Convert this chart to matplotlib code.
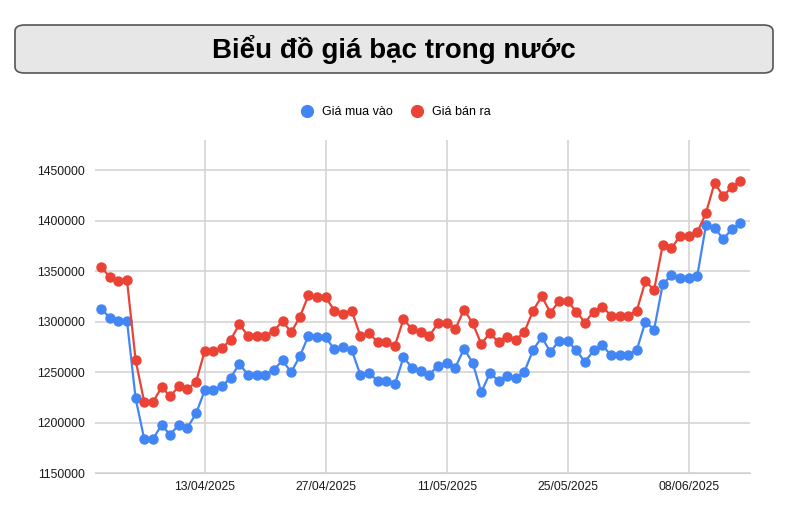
import numpy as np
import pandas as pd
import matplotlib
matplotlib.use('Agg')
import matplotlib.pyplot as plt
import matplotlib.dates as mdates
from matplotlib.patches import FancyBboxPatch
from matplotlib.lines import Line2D

plt.rcParams['font.family'] = ['Liberation Sans', 'DejaVu Sans']

# Du lieu: gia bac moi ngay tu 01/04/2025 den 14/06/2025
ngay = pd.date_range('2025-04-01', '2025-06-14', freq='D')

gia_mua = [1313000, 1304000, 1300500, 1301000, 1224000, 1183500, 1183500, 1197500, 1188000, 1198000,
           1195000, 1209000, 1232000, 1232000, 1236000, 1244500, 1258000, 1247500, 1247500, 1247500,
           1252500, 1261500, 1250000, 1265500, 1286000, 1284500, 1284500, 1272500, 1274500, 1272000,
           1247500, 1249000, 1241500, 1241500, 1238000, 1264500, 1254500, 1251500, 1247500, 1256500,
           1259500, 1254500, 1273000, 1259500, 1230000, 1249000, 1241500, 1246500, 1244000, 1250500,
           1272000, 1284500, 1270000, 1281000, 1281000, 1271500, 1260000, 1271500, 1276500, 1267000,
           1267000, 1267000, 1272000, 1300000, 1292000, 1337000, 1346000, 1343000, 1343000, 1345500,
           1395500, 1393000, 1382000, 1391500, 1397500]

gia_ban = [1354000, 1344500, 1340000, 1341000, 1262000, 1220000, 1220000, 1235000, 1226000, 1236000,
           1233000, 1240500, 1271000, 1270500, 1274000, 1282000, 1297500, 1286000, 1286000, 1286000,
           1291000, 1300500, 1289500, 1304500, 1326000, 1324000, 1324000, 1311000, 1307500, 1311000,
           1286000, 1288500, 1280000, 1280000, 1276000, 1302500, 1292500, 1290000, 1286000, 1298500,
           1298500, 1292500, 1312000, 1298500, 1278000, 1288500, 1279500, 1285000, 1282000, 1290000,
           1311000, 1325000, 1309000, 1320000, 1320000, 1310000, 1299000, 1310000, 1315000, 1306000,
           1306000, 1306000, 1311000, 1340000, 1331500, 1376000, 1372500, 1385000, 1385000, 1388500,
           1407500, 1437500, 1424500, 1433500, 1439500]

nhan_x = ['13/04/2025', '27/04/2025', '11/05/2025', '25/05/2025', '08/06/2025']
moc_y = [1150000, 1200000, 1250000, 1300000, 1350000, 1400000, 1450000]

xanh = '#4285F4'
do = '#EA4335'

fig = plt.figure(figsize=(7.93, 5.12), dpi=100)
W, H = 793, 512

# Khung tieu de
box = FancyBboxPatch((15 / W, 1 - 73 / H), 758 / W, 48 / H,
                     boxstyle='round,pad=0,rounding_size=0.012',
                     transform=fig.transFigure, facecolor='#e8e7e8',
                     edgecolor='#555555', linewidth=1.2)
fig.patches.append(box)
fig.text(394 / W, 1 - 49 / H, 'Biểu đồ giá bạc trong nước', ha='center', va='center',
         fontsize=20, fontweight='bold', color='black')

ax = fig.add_axes([95 / W, 1 - 473 / H, 655 / W, 333 / H])

ax.plot(ngay, gia_mua, '-o', color=xanh, linewidth=1.6, markersize=6.5, zorder=3)
ax.plot(ngay, gia_ban, '-o', color=do, linewidth=1.6, markersize=6.5, zorder=3)

# Truc
x0 = mdates.date2num(ngay[0]) - 0.7
x1 = mdates.date2num(ngay[-1]) + 1.1
ax.set_xlim(x0, x1)
ax.set_ylim(1150000, 1480000)

vi_tri_x = [mdates.date2num(pd.to_datetime(s, format='%d/%m/%Y')) for s in nhan_x]
ax.set_xticks(vi_tri_x)
ax.set_xticklabels(nhan_x)
ax.set_yticks(moc_y)
ax.set_yticklabels([str(v) for v in moc_y])

ax.tick_params(axis='both', length=0, labelsize=8.8, colors='#1a1a1a')
ax.tick_params(axis='x', pad=6)
ax.tick_params(axis='y', pad=7)
ax.grid(True, color='#d4d4d4', linewidth=1.2)
ax.set_axisbelow(True)
for s in ax.spines.values():
    s.set_visible(False)
ax.spines['bottom'].set_visible(True)
ax.spines['bottom'].set_color('#d0d0d0')

# Chu thich
handles = [Line2D([], [], marker='o', linestyle='', color=xanh, markersize=8.5),
           Line2D([], [], marker='o', linestyle='', color=do, markersize=8.5)]
fig.legend(handles, ['Giá mua vào', 'Giá bán ra'], loc='center',
           bbox_to_anchor=(395 / W, 1 - 112 / H), ncol=2, frameon=False,
           fontsize=9, handletextpad=0.6, columnspacing=1.4, handlelength=1.2)

fig.savefig('out.png', dpi=100, facecolor='white')
